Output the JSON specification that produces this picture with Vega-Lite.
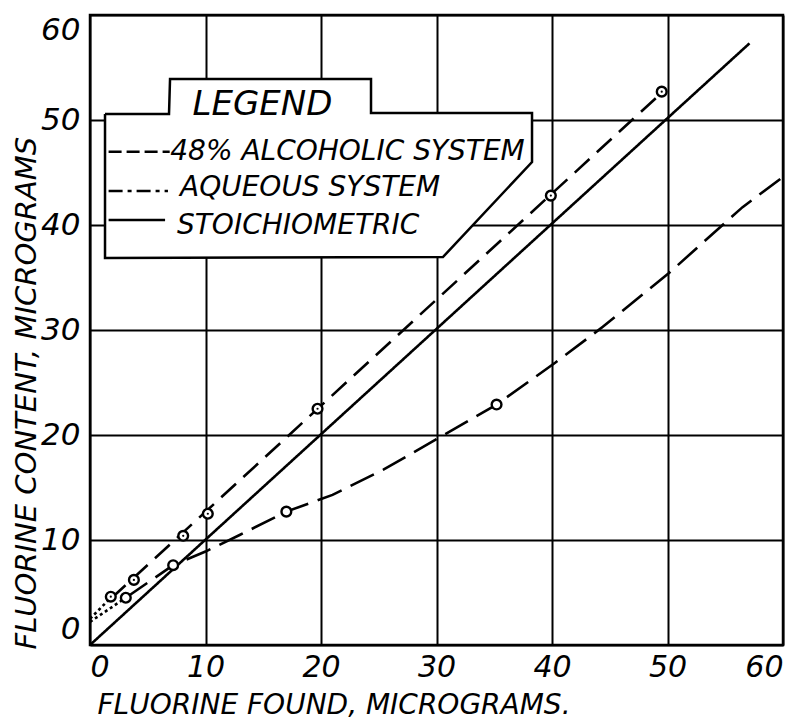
{
  "$schema": "https://vega.github.io/schema/vega-lite/v6.json",
  "width": 693,
  "height": 630,
  "autosize": {"type": "none"},
  "padding": {"left": 90, "top": 15, "right": 3, "bottom": 74},
  "background": "white",
  "config": {
    "view": {"stroke": "black", "strokeWidth": 2.5},
    "font": "DejaVu Sans",
    "axis": {
      "grid": true, "gridColor": "black", "gridWidth": 2, "gridOpacity": 1,
      "domain": false, "ticks": false,
      "labelFont": "DejaVu Sans", "labelFontSize": 31, "labelFontStyle": "italic", "labelColor": "black",
      "titleFont": "DejaVu Sans", "titleFontSize": 29, "titleFontStyle": "italic", "titleFontWeight": "normal", "titleColor": "black"
    }
  },
  "datasets": {
    "box": [
      {"i": 0, "x": 1.3, "y": 50.57}, {"i": 1, "x": 6.84, "y": 50.57}, {"i": 2, "x": 6.93, "y": 53.9},
      {"i": 3, "x": 24.33, "y": 53.9}, {"i": 4, "x": 24.33, "y": 50.67}, {"i": 5, "x": 38.27, "y": 50.67},
      {"i": 6, "x": 38.27, "y": 46.0}, {"i": 7, "x": 30.56, "y": 36.95}, {"i": 8, "x": 1.3, "y": 36.86},
      {"i": 9, "x": 1.3, "y": 50.57}
    ],
    "lines": [
      {"s": "stoich", "i": 0, "x": 0, "y": 0}, {"s": "stoich", "i": 1, "x": 57.1, "y": 57.3},
      {"s": "alcdot", "i": 0, "x": 0, "y": 2.5}, {"s": "alcdot", "i": 1, "x": 1.8, "y": 4.5},
      {"s": "alc", "i": 0, "x": 1.8, "y": 4.4}, {"s": "alc", "i": 1, "x": 49.5, "y": 52.6},
      {"s": "aqdot", "i": 0, "x": 0, "y": 2.2}, {"s": "aqdot", "i": 1, "x": 3.1, "y": 4.5},
      {"s": "aq", "i": 0, "x": 3.1, "y": 4.5}, {"s": "aq", "i": 1, "x": 7.2, "y": 7.6},
      {"s": "aq", "i": 2, "x": 10, "y": 8.9}, {"s": "aq", "i": 3, "x": 13, "y": 10.5},
      {"s": "aq", "i": 4, "x": 17, "y": 12.7}, {"s": "aq", "i": 5, "x": 21, "y": 14.3},
      {"s": "aq", "i": 6, "x": 25.4, "y": 16.7}, {"s": "aq", "i": 7, "x": 30, "y": 19.6},
      {"s": "aq", "i": 8, "x": 35.2, "y": 22.9}, {"s": "aq", "i": 9, "x": 40.3, "y": 26.9},
      {"s": "aq", "i": 10, "x": 44.4, "y": 30.3}, {"s": "aq", "i": 11, "x": 50.1, "y": 35.4},
      {"s": "aq", "i": 12, "x": 56.5, "y": 41.7}, {"s": "aq", "i": 13, "x": 59.9, "y": 44.5},
      {"s": "legalc", "i": 0, "x": 1.61, "y": 46.98}, {"s": "legalc", "i": 1, "x": 6.9, "y": 46.98},
      {"s": "legaq", "i": 0, "x": 1.61, "y": 43.24}, {"s": "legaq", "i": 1, "x": 6.75, "y": 43.24},
      {"s": "legst", "i": 0, "x": 1.61, "y": 40.48}, {"s": "legst", "i": 1, "x": 6.5, "y": 40.48}
    ],
    "pts": [
      {"s": "alc", "x": 1.8, "y": 4.6}, {"s": "alc", "x": 3.8, "y": 6.2}, {"s": "alc", "x": 8.07, "y": 10.4},
      {"s": "alc", "x": 10.2, "y": 12.5}, {"s": "alc", "x": 19.7, "y": 22.5}, {"s": "alc", "x": 39.9, "y": 42.8},
      {"s": "alc", "x": 49.5, "y": 52.7},
      {"s": "aq", "x": 3.1, "y": 4.5}, {"s": "aq", "x": 7.2, "y": 7.6}, {"s": "aq", "x": 17.0, "y": 12.7},
      {"s": "aq", "x": 35.2, "y": 22.9}
    ],
    "entries": [
      {"t": "48% ALCOHOLIC SYSTEM", "x": 6.95, "y": 47.0},
      {"t": "AQUEOUS SYSTEM", "x": 7.79, "y": 43.5},
      {"t": "STOICHIOMETRIC", "x": 7.53, "y": 39.9}
    ],
    "head": [{"t": "LEGEND", "x": 14.93, "y": 51.43}]
  },
  "encoding": {
    "x": {"field": "x", "type": "quantitative", "scale": {"domain": [0, 60], "nice": false},
      "axis": {"values": [0, 10, 20, 30, 40, 50, 60], "title": "FLUORINE FOUND, MICROGRAMS.", "labelFlush": true, "labelPadding": 7, "labelFontSize": 30,
        "titleFontSize": 28, "titleAnchor": "start", "titleAlign": "left", "titleX": 7, "titleY": 68, "titleBaseline": "alphabetic"}},
    "y": {"field": "y", "type": "quantitative", "scale": {"domain": [0, 60], "nice": false},
      "axis": {"values": [0, 10, 20, 30, 40, 50, 60], "title": "FLUORINE CONTENT, MICROGRAMS", "labelFlush": true, "labelPadding": 10,
        "titleAngle": 270, "titleAlign": "left", "titleBaseline": "middle", "titleX": -64, "titleY": 634}}
  },
  "layer": [
    {
      "data": {"name": "box"},
      "mark": {"type": "line", "fill": "white", "stroke": "black", "strokeWidth": 2.5, "strokeJoin": "miter"},
      "encoding": {"order": {"field": "i", "type": "quantitative"}}
    },
    {
      "data": {"name": "lines"},
      "mark": {"type": "line", "color": "black", "strokeWidth": 2.6},
      "encoding": {
        "detail": {"field": "s"},
        "order": {"field": "i", "type": "quantitative"},
        "strokeDash": {"field": "s", "type": "nominal", "legend": null,
          "scale": {"domain": ["stoich", "alcdot", "alc", "aqdot", "aq", "legalc", "legaq", "legst"],
            "range": [[1, 0], [3, 3], [20, 10], [3, 3], [26, 10], [13, 5], [14, 5, 4, 5], [1, 0]]}}
      }
    },
    {
      "data": {"name": "pts"},
      "mark": {"type": "point", "shape": "circle", "filled": false, "fill": "white", "fillOpacity": 1, "stroke": "black", "strokeWidth": 2.4, "opacity": 1, "size": 95}
    },
    {
      "data": {"name": "pts"},
      "transform": [{"filter": "datum.s == 'alc'"}],
      "mark": {"type": "point", "shape": "circle", "filled": true, "color": "black", "opacity": 1, "size": 5}
    },
    {
      "data": {"name": "entries"},
      "mark": {"type": "text", "align": "left", "baseline": "middle", "fontSize": 28, "fontStyle": "italic", "font": "DejaVu Sans", "color": "black"},
      "encoding": {"text": {"field": "t"}}
    },
    {
      "data": {"name": "head"},
      "mark": {"type": "text", "align": "center", "baseline": "middle", "fontSize": 34, "fontStyle": "italic", "font": "DejaVu Sans", "color": "black"},
      "encoding": {"text": {"field": "t"}}
    }
  ]
}
